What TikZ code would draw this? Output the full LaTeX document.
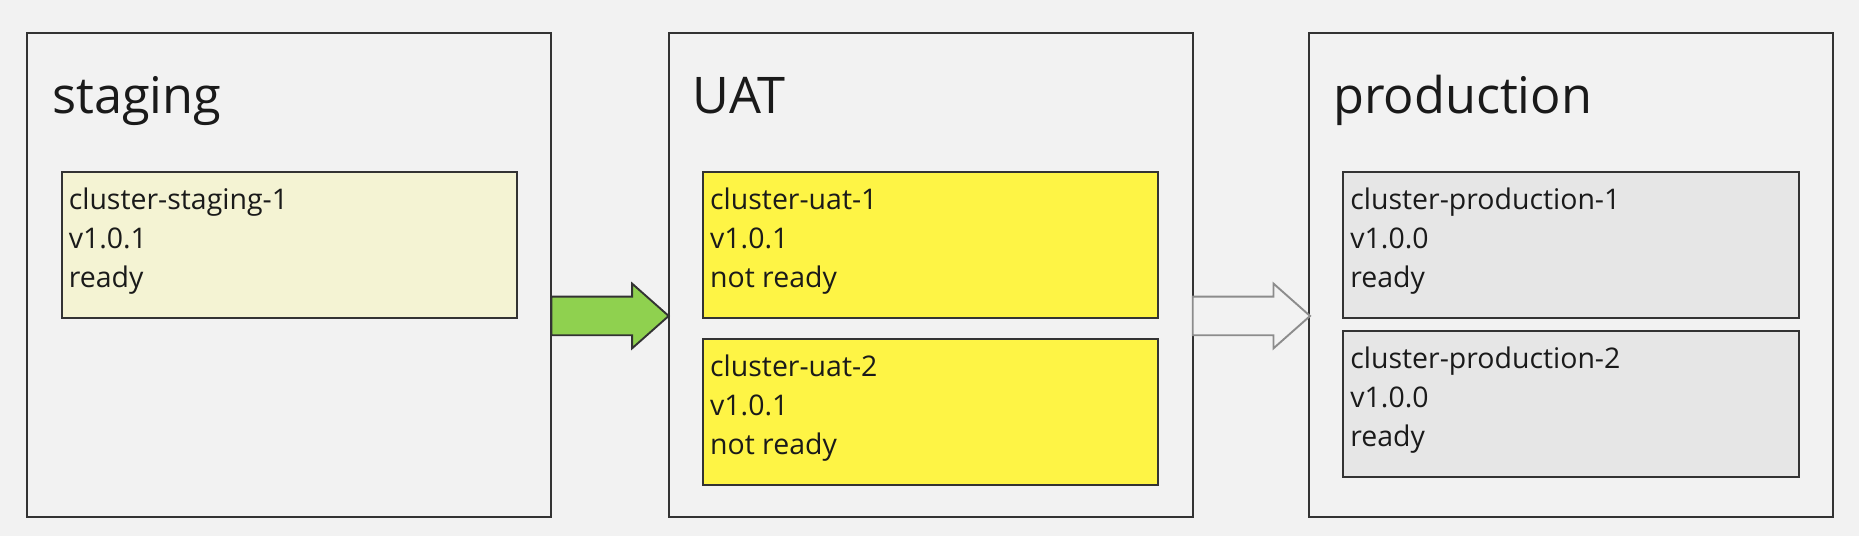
\documentclass[tikz,border=0pt]{standalone}
\usepackage{fontspec}
\setmainfont{Open Sans}
\usepackage{tikz}
\usetikzlibrary{calc}
\usetikzlibrary{positioning}
\usetikzlibrary{shapes.arrows}
\definecolor{bgGray}{HTML}{F2F2F2}
\definecolor{lineGray}{HTML}{333333}
\definecolor{arrowGray}{HTML}{8C8C8C}
\definecolor{textBlack}{HTML}{1A1A1A}
\definecolor{creamFill}{HTML}{F4F3D3}
\definecolor{yellowFill}{HTML}{FEF445}
\definecolor{greyFill}{HTML}{E6E6E6}
\definecolor{arrowGreen}{HTML}{8FD14F}
\tikzset{
  envbox/.style={
    draw=lineGray,
    line width=0.8pt,
    fill=bgGray,
    anchor=north west,
    minimum width=221pt,
    minimum height=204pt,
    inner sep=0pt,
    outer sep=0pt,
  },
  envtitle/.style={
    anchor=base west,
    inner sep=0pt,
    text=textBlack,
    font=\fontsize{21.3}{25}\selectfont
  },
  clusterbox/.style={
    draw=lineGray,
    line width=0.8pt,
    minimum width=192pt,
    minimum height=61.5pt,
    inner sep=0pt,
    outer sep=0pt,
  },
  clustertext/.style={
    anchor=north west,
    inner sep=0pt,
    align=left,
    text=textBlack,
    font=\fontsize{12}{16.4}\selectfont
  },
  promotearrow/.style={
    single arrow,
    anchor=tail,
    line width=0.8pt,
    minimum height=49.5pt,
    single arrow head extend=5.5pt,
    single arrow tip angle=83,
    inner xsep=0pt,
    inner ysep=7.75pt,
    outer sep=0pt,
  }
}

\begin{document}
\begin{tikzpicture}[x=1pt, y=1pt]
    \fill [bgGray] (0,0) rectangle (784,-226);
    \useasboundingbox (0,0) rectangle (784,-226);

    % Environments
    \node [envbox] (staging)    at (11.5, -14) {};
    \node [envbox] (uat)        at (282.0, -14) {};
    \node [envbox] (production) at (552.0, -14) {};

    \node [envtitle] (staging-title)    at ([xshift=10.3pt, yshift=-34pt]staging.north west) {staging};
    \node [envtitle] (uat-title)        at ([xshift=10pt, yshift=-34pt]uat.north west) {UAT};
    \node [envtitle] (production-title) at ([xshift=10pt, yshift=-34pt]production.north west) {production};

    % Clusters
    \node [clusterbox, fill=creamFill, below right=58.5pt and 14.5pt of staging.north west] (staging-1) {};
    \node [clusterbox, fill=yellowFill, below right=58.5pt and 14.5pt of uat.north west] (uat-1) {};
    \node [clusterbox, fill=yellowFill, below=9pt of uat-1] (uat-2) {};
    \node [clusterbox, fill=greyFill, below right=58.5pt and 14.5pt of production.north west] (production-1) {};
    \node [clusterbox, fill=greyFill, below=5.5pt of production-1] (production-2) {};

    \node [clustertext] (staging-1-text) at ([xshift=2.8pt, yshift=-6.5pt]staging-1.north west) {cluster-staging-1\\v1.0.1\\ready};
    \node [clustertext] (uat-1-text) at ([xshift=2.8pt, yshift=-6.5pt]uat-1.north west) {cluster-uat-1\\v1.0.1\\not ready};
    \node [clustertext] (uat-2-text) at ([xshift=2.8pt, yshift=-6.5pt]uat-2.north west) {cluster-uat-2\\v1.0.1\\not ready};
    \node [clustertext] (production-1-text) at ([xshift=2.8pt, yshift=-6.5pt]production-1.north west) {cluster-production-1\\v1.0.0\\ready};
    \node [clustertext] (production-2-text) at ([xshift=2.8pt, yshift=-6.5pt]production-2.north west) {cluster-production-2\\v1.0.0\\ready};

    % Promotion arrows
    \node [promotearrow, fill=arrowGreen, draw=lineGray] (promote-uat) at ([yshift=-17.25pt]staging.east) {};
    \node [promotearrow, fill=bgGray, draw=arrowGray] (promote-production) at ([yshift=-17.25pt]uat.east) {};
\end{tikzpicture}
\end{document}
